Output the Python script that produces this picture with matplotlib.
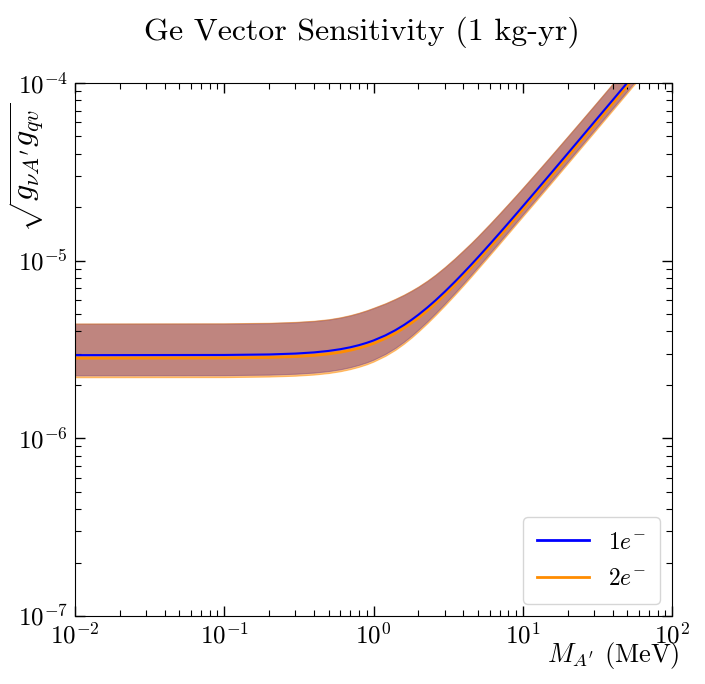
import matplotlib
matplotlib.use("Agg")
import matplotlib.pyplot as plt
import numpy as np

plt.rcParams['font.family'] = 'serif'
plt.rcParams['font.serif'] = ['cmr10']
plt.rcParams['mathtext.fontset'] = 'cm'
plt.rcParams['axes.formatter.use_mathtext'] = True

UNIT = 1e-6  # coupling values below are in units of 1e-6

# Dark photon mass (MeV)
mass = [0.01, 0.1, 0.2, 0.3, 0.4, 0.5, 0.6, 0.7, 0.8, 0.9, 1.0, 1.2, 1.4, 1.6,
        1.8, 2.0, 2.3, 2.6, 3.0, 3.5, 4.0, 4.5, 5, 6, 7, 8, 9, 10, 12, 15, 20,
        25, 30, 40, 50, 60]

# 1e- threshold: central curve and band
g_1e = [2.94, 2.946, 2.966, 3.0, 3.046, 3.105, 3.175, 3.256, 3.347, 3.447,
        3.555, 3.795, 4.06, 4.345, 4.648, 4.964, 5.459, 5.973, 6.681, 7.592,
        8.523, 9.468, 10.423, 12.355, 14.305, 16.268, 18.238, 20.215, 24.179,
        30.144, 40.108, 50.086, 60.072, 80.054, 100.04, 120.04]
g_1e_hi = [4.41, 4.419, 4.449, 4.5, 4.569, 4.658, 4.778, 4.917, 5.071, 5.233,
           5.404, 5.730, 6.070, 6.409, 6.763, 7.123, 7.697, 8.302, 9.153,
           10.249, 11.378, 12.498, 13.654, 16.0, 18.382, 20.774, 23.162,
           25.572, 30.417, 37.68, 49.854, 62.006, 74.189, 98.627, 123.05,
           147.65]
g_1e_lo = [2.264, 2.268, 2.284, 2.31, 2.345, 2.391, 2.448, 2.517, 2.594, 2.678,
           2.773, 2.987, 3.228, 3.498, 3.788, 4.095, 4.569, 5.059, 5.726,
           6.575, 7.441, 8.322, 9.214, 10.996, 12.789, 14.592, 16.396, 18.194,
           21.761, 27.13, 36.097, 45.077, 54.065, 72.049, 90.036, 108.04]

# 2e- threshold: central curve and band
g_2e = [2.828, 2.834, 2.853, 2.886, 2.930, 2.987, 3.054, 3.132, 3.220, 3.316,
        3.420, 3.651, 3.906, 4.180, 4.471, 4.775, 5.252, 5.746, 6.427, 7.303,
        8.199, 9.108, 10.027, 11.886, 13.761, 15.650, 17.545, 19.447, 23.260,
        28.999, 38.584, 48.183, 57.789, 77.012, 96.238, 115.478]
g_2e_hi = [4.432, 4.441, 4.471, 4.523, 4.592, 4.681, 4.802, 4.942, 5.096,
           5.259, 5.431, 5.759, 6.100, 6.441, 6.797, 7.159, 7.735, 8.344,
           9.199, 10.300, 11.435, 12.560, 13.722, 16.08, 18.474, 20.878,
           23.278, 25.700, 30.569, 37.868, 50.103, 62.316, 74.560, 99.120,
           123.665, 148.388]
g_2e_lo = [2.207, 2.211, 2.227, 2.252, 2.286, 2.331, 2.387, 2.454, 2.529,
           2.611, 2.704, 2.912, 3.147, 3.411, 3.693, 3.993, 4.455, 4.933,
           5.583, 6.411, 7.255, 8.114, 8.984, 10.721, 12.469, 14.227, 15.986,
           17.739, 21.217, 26.452, 35.195, 43.950, 52.713, 70.248, 87.785,
           105.339]

labels = [r'$1e^{-}$', r'$2e^{-}$']
colors = ['blue', 'darkorange']

fig = plt.figure(figsize=(7.05, 6.84), dpi=100)
ax = fig.add_axes([75/705, 68/684, 597/705, 533/684])

s = lambda v: np.asarray(v) * UNIT
ax.fill_between(mass, s(g_1e_lo), s(g_1e_hi), color=colors[0], alpha=0.5, lw=0.8)
ax.fill_between(mass, s(g_2e_lo), s(g_2e_hi), color=colors[1], alpha=0.5, lw=0.8)
l2, = ax.plot(mass, s(g_2e), color=colors[1], lw=2.0, label=labels[1])
l1, = ax.plot(mass, s(g_1e), color=colors[0], lw=1.5, label=labels[0])

ax.set_xscale('log')
ax.set_yscale('log')
ax.set_xlim(1e-2, 1e2)
ax.set_ylim(1e-7, 1e-4)

ax.tick_params(which='both', direction='in', top=True, right=True, labelsize=18)
ax.tick_params(which='major', length=7, width=1)
ax.tick_params(which='minor', length=4, width=0.8)
ax.xaxis.set_tick_params(pad=5)
ax.yaxis.set_tick_params(pad=5)

ax.set_xlabel(r"$M_{A'}$ (MeV)", fontsize=19, loc='right')
ax.xaxis.set_label_coords(1.013, -0.045)
ax.set_ylabel(r"$\sqrt{g_{\nu A'} g_{qv}}$", fontsize=23, loc='top')
ax.yaxis.set_label_coords(-0.048, 0.962)

leg = ax.legend([l1, l2], labels, loc='lower right', fontsize=17,
                handlelength=2.2, borderpad=0.6, labelspacing=0.6)
for line in leg.get_lines():
    line.set_linewidth(2)

fig.text(362/705, 1 - 32/684, 'Ge Vector Sensitivity (1 kg-yr)', ha='center',
         va='center', fontsize=23)

fig.savefig('out.png', dpi=100)
